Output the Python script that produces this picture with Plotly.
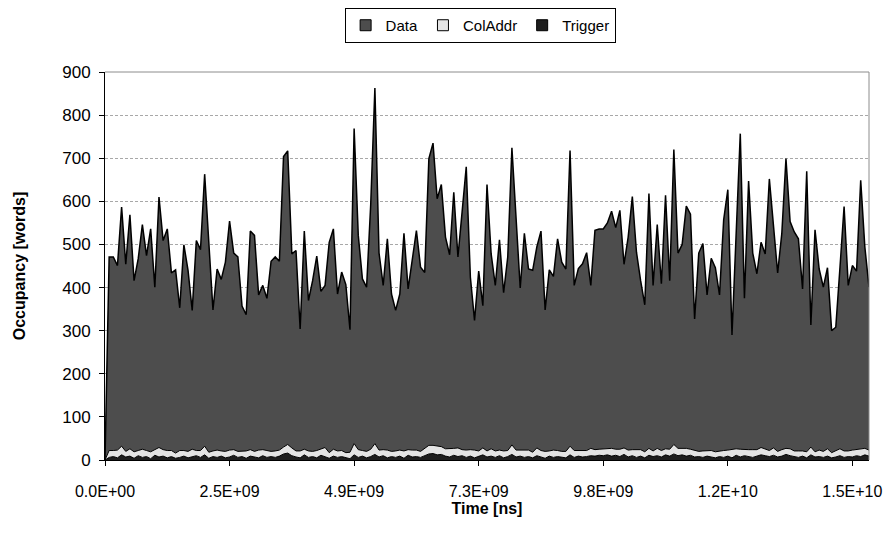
import plotly.graph_objects as go

# Stacked occupancy values (words) per time sample
data_words = [
    0, 449, 449, 428, 555, 434, 543, 397, 445, 521, 452, 517, 377, 581, 485, 514, 412, 425, 331, 477,
    420, 322, 487, 466, 631, 482, 327, 420, 398, 439, 531, 456, 451, 337, 316, 507, 501, 360, 381, 353,
    441, 450, 438, 674, 681, 450, 465, 283, 506, 349, 396, 451, 366, 376, 488, 511, 364, 414, 390, 284,
    731, 497, 398, 381, 569, 825, 457, 381, 490, 365, 326, 362, 505, 373, 436, 509, 427, 408, 665, 701,
    573, 608, 491, 450, 594, 443, 551, 657, 400, 301, 417, 330, 618, 452, 384, 488, 367, 449, 689, 540,
    376, 503, 420, 422, 466, 509, 328, 420, 403, 491, 439, 423, 686, 383, 422, 433, 459, 378, 509, 511,
    510, 523, 550, 514, 554, 426, 494, 587, 458, 392, 341, 591, 384, 519, 387, 588, 391, 684, 453, 473,
    562, 545, 304, 460, 481, 361, 446, 427, 362, 535, 604, 266, 499, 732, 351, 623, 456, 408, 476, 452,
    630, 513, 414, 501, 672, 527, 508, 492, 376, 651, 283, 515, 420, 381, 420, 283, 287, 419, 567, 384,
    428, 414, 624, 467, 378,
]
coladdr_words = [
    0, 16, 14, 18, 20, 13, 17, 15, 12, 19, 14, 16, 13, 22, 15, 17, 14, 12, 16, 13,
    15, 18, 12, 16, 20, 14, 13, 17, 12, 15, 16, 13, 14, 12, 17, 15, 13, 18, 14, 16,
    12, 15, 14, 16, 20, 18, 14, 16, 13, 15, 12, 17, 14, 22, 13, 16, 15, 14, 12, 15,
    26, 18, 13, 15, 17, 25, 16, 14, 18, 12, 15, 14, 17, 13, 16, 15, 14, 17, 20, 19,
    21, 18, 17, 19, 16, 20, 14, 17, 15, 18, 13, 16, 14, 17, 15, 13, 16, 14, 22, 16,
    14, 17, 15, 13, 18, 15, 16, 12, 17, 14, 13, 15, 20, 16, 13, 15, 14, 17, 15, 14,
    16, 15, 18, 14, 17, 15, 16, 14, 18, 15, 14, 16, 13, 17, 15, 14, 16, 22, 17, 15,
    18, 14, 16, 12, 15, 13, 15, 14, 13, 16, 14, 19, 15, 18, 14, 16, 18, 15, 17, 16,
    14, 17, 13, 15, 14, 16, 13, 15, 12, 14, 18, 12, 15, 14, 17, 12, 14, 16, 15, 13,
    16, 14, 17, 15, 14,
]
trigger_words = [
    0, 6, 8, 5, 12, 7, 9, 4, 10, 6, 8, 3, 11, 7, 9, 5, 8, 4, 6, 9,
    5, 7, 10, 6, 12, 4, 8, 6, 9, 5, 7, 11, 6, 8, 4, 9, 7, 5, 10, 6,
    8, 6, 9, 14, 16, 10, 7, 5, 12, 6, 8, 5, 11, 7, 4, 9, 6, 8, 5, 3,
    12, 6, 9, 5, 8, 13, 7, 10, 5, 8, 6, 9, 4, 11, 7, 8, 6, 10, 14, 15,
    12, 13, 9, 7, 11, 8, 10, 6, 9, 5, 8, 12, 7, 9, 6, 10, 5, 8, 13, 7,
    9, 6, 8, 5, 10, 7, 4, 9, 6, 8, 7, 5, 12, 6, 9, 7, 8, 10, 9, 11,
    10, 12, 9, 11, 8, 13, 7, 10, 6, 9, 5, 11, 8, 10, 7, 12, 9, 14, 10, 12,
    9, 11, 7, 8, 6, 9, 7, 5, 8, 6, 9, 5, 11, 7, 10, 8, 6, 9, 12, 10,
    8, 11, 7, 9, 13, 10, 8, 6, 9, 5, 12, 7, 8, 6, 9, 5, 7, 10, 6, 8,
    7, 10, 8, 12, 9,
]
tick_positions = [0, 30, 60, 90, 120, 150, 180]
tick_labels = ["0.0E+00", "2.5E+09", "4.9E+09", "7.3E+09", "9.8E+09", "1.2E+10", "1.5E+10"]
y_ticks = [0, 100, 200, 300, 400, 500, 600, 700, 800, 900]

series_names = ["Data", "ColAddr", "Trigger"]
series_fill = {"Data": "#4d4d4d", "ColAddr": "#e4e4e4", "Trigger": "#1e1e1e"}

samples = list(range(len(data_words)))
FONT = "Liberation Sans, Arial, sans-serif"

fig = go.Figure()
# stacked areas (bottom to top)
for name, vals, lw in [("Trigger", trigger_words, 1), ("ColAddr", coladdr_words, 1),
                       ("Data", data_words, 1.5)]:
    fig.add_trace(go.Scatter(x=samples, y=vals, name=name, stackgroup="s", mode="lines",
                             line=dict(color="#000000", width=lw),
                             fillcolor=series_fill[name], showlegend=False))
# legend entries with square swatches
for name in series_names:
    fig.add_trace(go.Scatter(x=[None], y=[None], name=name, mode="markers",
                             marker=dict(symbol="square", size=11, color=series_fill[name],
                                         line=dict(color="black", width=1))))

fig.update_layout(
    width=896, height=548,
    margin=dict(l=105, r=27, t=72, b=88, autoexpand=False),
    paper_bgcolor="white", plot_bgcolor="white",
    font=dict(family=FONT, size=16, color="black"),
    showlegend=True,
    legend=dict(orientation="h", x=0.491, xanchor="center", y=1.165, yanchor="top",
                bordercolor="black", borderwidth=1, traceorder="normal",
                font=dict(family=FONT, size=15), itemwidth=30,
                tracegroupgap=0),
    xaxis=dict(range=[0, len(data_words) - 1], tickvals=tick_positions, ticktext=tick_labels,
               showgrid=False, zeroline=False, showline=True, linecolor="black", linewidth=1,
               ticks="outside", ticklen=5, tickcolor="black", ticklabelstandoff=12,
               title=dict(text="<b>Time [ns]</b>", font=dict(family=FONT, size=16), standoff=2),
               tickfont=dict(family=FONT, size=16)),
    yaxis=dict(range=[0, 900], tickvals=y_ticks, showgrid=True, gridcolor="#a8a8a8",
               griddash="3px,2px", gridwidth=1, zeroline=False,
               showline=True, linecolor="black", linewidth=1,
               ticks="outside", ticklen=5, tickcolor="black", ticklabelstandoff=5,
               title=dict(text="<b>Occupancy [words]</b>", font=dict(family=FONT, size=16), standoff=32),
               tickfont=dict(family=FONT, size=17)),
)
# gray plot-area border on top and right
fig.add_shape(type="line", xref="paper", yref="paper", x0=0, x1=1, y0=1, y1=1,
              line=dict(color="#8c8c8c", width=1))
fig.add_shape(type="line", xref="paper", yref="paper", x0=1, x1=1, y0=0, y1=1,
              line=dict(color="#8c8c8c", width=1))

fig.write_html("out.html")
